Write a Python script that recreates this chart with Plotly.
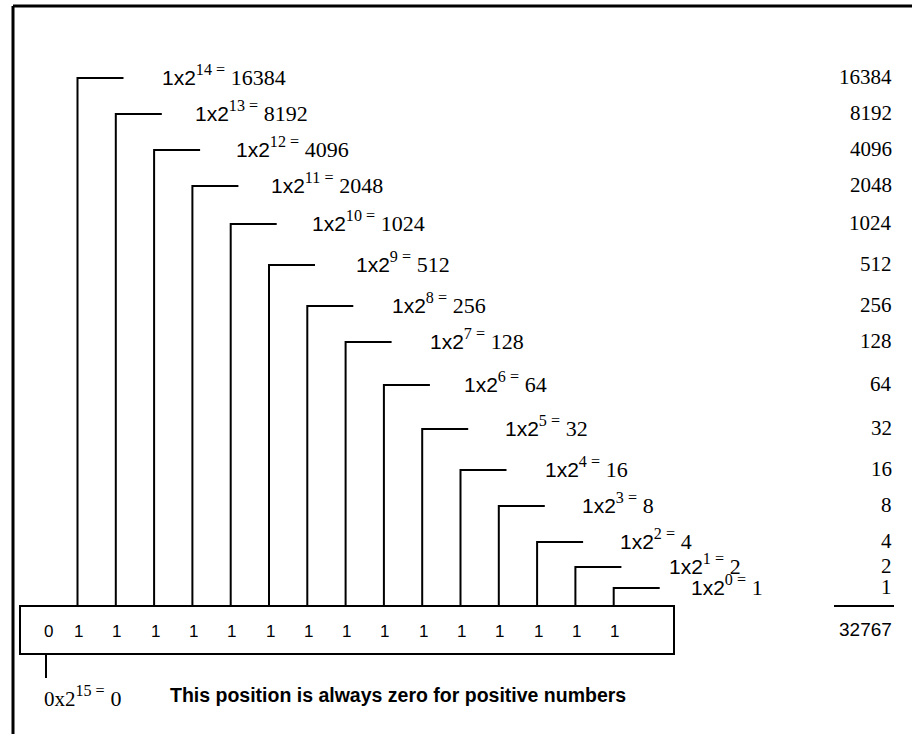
import plotly.graph_objects as go

# ---------------- data ----------------
exponents = [14, 13, 12, 11, 10, 9, 8, 7, 6, 5, 4, 3, 2, 1, 0]
place_values = [16384, 8192, 4096, 2048, 1024, 512, 256, 128, 64, 32, 16, 8, 4, 2, 1]
bits = [0, 1, 1, 1, 1, 1, 1, 1, 1, 1, 1, 1, 1, 1, 1, 1]
sign_exponent = 15
sign_value = 0
total = 32767
note_text = "This position is always zero for positive numbers"

# ---------------- layout constants (pixel space) ----------------
W, H = 912, 734
leader_y = [78, 114, 150, 186, 224, 265, 306, 342, 385, 429, 470, 506, 542, 567, 588]
label_x = [160, 193, 234, 269, 310, 354, 390, 428, 462, 503, 543, 580, 618, 667, 689]
first_bit_x, bit_step, sign_bit_x = 77.5, 38.3, 46
leader_len = 46
box = dict(x0=20, x1=674, y0=606, y1=654)
right_x = 894
sum_line_x = (834, 894)
sum_line_y = 606
sign_tick = (654, 678)

SERIF = "'Liberation Serif', 'Times New Roman', serif"
NARROW = "'Liberation Sans Narrow', 'Arial Narrow', 'Liberation Sans', Arial, sans-serif"
SANS = "'Liberation Sans', Arial, sans-serif"


def power_label(prefix, e, v, prefix_font):
    return (f'<span style="font-family:{prefix_font};font-size:21px">{prefix}</span>'
            f'<sup>{e} =</sup> <span style="font-size:22px">{v}</span>')


fig = go.Figure()

# leader lines (vertical from box top up to level, then horizontal right)
xs, ys = [], []
for i, y in enumerate(leader_y):
    bx = first_bit_x + bit_step * i
    xs += [bx, bx, bx + leader_len, None]
    ys += [box["y0"], y, y, None]
# sign bit tick below the box
xs += [sign_bit_x, sign_bit_x, None]
ys += [sign_tick[0], sign_tick[1], None]
# sum rule
xs += [sum_line_x[0], sum_line_x[1], None]
ys += [sum_line_y, sum_line_y, None]
fig.add_trace(go.Scatter(x=xs, y=ys, mode="lines",
                         line=dict(color="black", width=2),
                         hoverinfo="skip", showlegend=False))

annotations = []

# power labels and right-hand column
for e, v, x, y in zip(exponents, place_values, label_x, leader_y):
    annotations.append(dict(x=x, y=y - 3, text=power_label("1x2", e, v, NARROW), showarrow=False,
                            xanchor="left", yanchor="middle",
                            font=dict(family=SERIF, size=23, color="black")))
    annotations.append(dict(x=right_x, y=y - 1, text=str(v), showarrow=False,
                            xanchor="right", yanchor="middle",
                            font=dict(family=SERIF, size=21, color="black")))

# total
annotations.append(dict(x=right_x, y=629, text=str(total), showarrow=False,
                        xanchor="right", yanchor="middle",
                        font=dict(family=NARROW, size=19, color="black")))

# bits inside the box
for i, b in enumerate(bits):
    bx = sign_bit_x + 2 if i == 0 else first_bit_x + bit_step * (i - 1) + 1
    annotations.append(dict(x=bx, y=631, text=str(b), showarrow=False,
                            xanchor="center", yanchor="middle",
                            font=dict(family=NARROW, size=17, color="black")))

# sign label and note
annotations.append(dict(x=42, y=696, text=power_label("0x2", sign_exponent, sign_value, SERIF),
                        showarrow=False, xanchor="left", yanchor="middle",
                        font=dict(family=SERIF, size=23, color="black")))
annotations.append(dict(x=168, y=695, text=f"<b>{note_text}</b>", showarrow=False,
                        xanchor="left", yanchor="middle",
                        font=dict(family=NARROW, size=19.5, color="black")))

shapes = [
    # the bit register box
    dict(type="rect", xref="x", yref="y", x0=box["x0"], x1=box["x1"],
         y0=box["y0"], y1=box["y1"], line=dict(color="black", width=2)),
    # outer frame (top and left edges)
    dict(type="line", xref="x", yref="y", x0=13, x1=W + 5, y0=6, y1=6,
         line=dict(color="black", width=3)),
    dict(type="line", xref="x", yref="y", x0=13, x1=13, y0=6, y1=H + 5,
         line=dict(color="black", width=3)),
]

fig.update_layout(
    width=W, height=H,
    margin=dict(l=0, r=0, t=0, b=0),
    paper_bgcolor="white", plot_bgcolor="white",
    xaxis=dict(range=[0, W], visible=False, fixedrange=True),
    yaxis=dict(range=[H, 0], visible=False, fixedrange=True),
    annotations=annotations, shapes=shapes,
    showlegend=False,
)

fig.write_html("out.html",
               config={"displayModeBar": False},
               post_script="document.body.style.margin='0px';document.body.style.overflow='hidden';")
